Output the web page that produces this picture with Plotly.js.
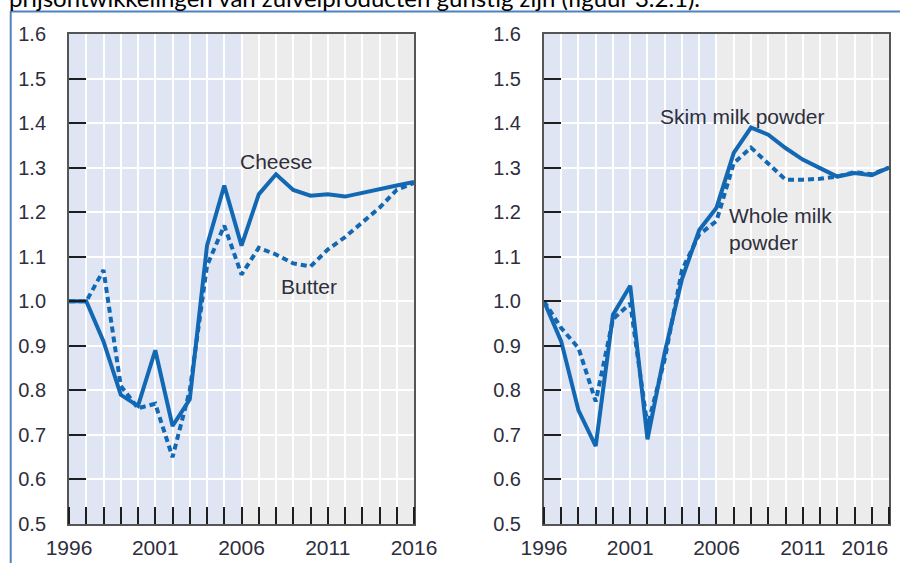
<!DOCTYPE html>
<html>
<head>
<meta charset="utf-8">
<script src="https://cdn.plot.ly/plotly-3.0.1.min.js"></script>
<style>
  html, body { margin: 0; padding: 0; background: #ffffff; }
  #chart { width: 900px; height: 563px; }
</style>
</head>
<body>
<div id="chart"></div>
<script>
// ---- data ----
const years = [1996, 1997, 1998, 1999, 2000, 2001, 2002, 2003, 2004, 2005, 2006,
               2007, 2008, 2009, 2010, 2011, 2012, 2013, 2014, 2015, 2016];

const cheese = [1.00, 1.00, 0.91, 0.79, 0.765, 0.89, 0.72, 0.78, 1.125, 1.26, 1.125,
                1.24, 1.285, 1.25, 1.237, 1.24, 1.235, 1.244, 1.252, 1.26, 1.268];
const butter = [1.00, 1.00, 1.07, 0.81, 0.76, 0.77, 0.65, 0.80, 1.08, 1.17, 1.06,
                1.12, 1.105, 1.085, 1.078, 1.116, 1.144, 1.176, 1.21, 1.25, 1.266];

const skimMilkPowder = [1.00, 0.91, 0.755, 0.675, 0.97, 1.035, 0.69, 0.885, 1.05, 1.16, 1.21,
                        1.333, 1.39, 1.374, 1.344, 1.318, 1.299, 1.28, 1.288, 1.283, 1.30];
const wholeMilkPowder = [1.00, 0.94, 0.895, 0.775, 0.96, 0.995, 0.72, 0.87, 1.07, 1.15, 1.18,
                         1.31, 1.345, 1.31, 1.273, 1.273, 1.275, 1.28, 1.29, 1.285, 1.30];

const historicalStart = 1996;
const projectionStart = 2006;

const xTickLabels = ["1996", "2001", "2006", "2011", "2016"];
const xTickValsLeft = [1996, 2001, 2006, 2011, 2016];
const xTickValsRight = [1996, 2001, 2006, 2011, 2014.6];

const seriesLabels = {
  cheese: "Cheese",
  butter: "Butter",
  skim: "Skim milk powder",
  whole: "Whole milk<br>powder"
};
const headerText = "prijsontwikkelingen van zuivelproducten gunstig zijn (figuur 3.2.1).";

// ---- styling ----
const BLUE = "#1268b3";
const TXT = "#2e2e3c";
const FONT = "Liberation Sans, Arial, sans-serif";

function lineTrace(y, xa, ya, dotted) {
  return {
    type: "scatter", mode: "lines", x: years, y: y,
    xaxis: xa, yaxis: ya, hoverinfo: "skip",
    line: { color: BLUE, width: 4, dash: dotted ? "6px,4px" : "solid" }
  };
}

const traces = [
  lineTrace(butter, "x", "y", true),
  lineTrace(cheese, "x", "y", false),
  lineTrace(wholeMilkPowder, "x2", "y2", true),
  lineTrace(skimMilkPowder, "x2", "y2", false)
];

function xAxis(domain, tickvals, anchor) {
  return {
    domain: domain, anchor: anchor, range: [1996, 2016],
    tickmode: "array", tickvals: tickvals, ticktext: xTickLabels,
    ticks: "", showgrid: false, zeroline: false,
    showline: true, mirror: true, linecolor: "#555555", linewidth: 2,
    tickfont: { family: FONT, size: 21, color: TXT },
    ticklabelstandoff: 4,
    minor: {
      tickmode: "linear", tick0: 1996, dtick: 1,
      ticks: "inside", ticklen: 17, tickwidth: 2, tickcolor: "#1e1e1e",
      showgrid: true, gridcolor: "#ffffff", gridwidth: 2
    },
    fixedrange: true
  };
}
function yAxis(anchor) {
  return {
    domain: [0.0693, 0.9396], anchor: anchor, range: [0.5, 1.6],
    tickmode: "linear", tick0: 0.5, dtick: 0.1, tickformat: ".1f",
    ticks: "inside", ticklen: 17, tickwidth: 2, tickcolor: "#1e1e1e",
    showgrid: true, gridcolor: "#ffffff", gridwidth: 2, zeroline: false,
    showline: true, mirror: true, linecolor: "#555555", linewidth: 2,
    tickfont: { family: FONT, size: 20, color: TXT },
    ticklabelstandoff: 17,
    fixedrange: true
  };
}

const layout = {
  width: 900, height: 563,
  margin: { l: 0, r: 0, t: 0, b: 0, pad: 0 },
  paper_bgcolor: "#ffffff",
  plot_bgcolor: "#ececec",
  showlegend: false,
  xaxis: xAxis([0.0767, 0.46], xTickValsLeft, "y"),
  yaxis: yAxis("x"),
  xaxis2: xAxis([0.6044, 0.9878], xTickValsRight, "y2"),
  yaxis2: yAxis("x2"),
  shapes: [
    { type: "rect", xref: "x", yref: "y domain", x0: historicalStart, x1: projectionStart, y0: 0, y1: 1,
      fillcolor: "#dfe5f3", line: { width: 0 }, layer: "below" },
    { type: "rect", xref: "x2", yref: "y2 domain", x0: historicalStart, x1: projectionStart, y0: 0, y1: 1,
      fillcolor: "#dfe5f3", line: { width: 0 }, layer: "below" },
    { type: "line", xref: "paper", yref: "paper", x0: 0.0111, x1: 1, y0: 0.9796, y1: 0.9796,
      line: { color: "#4f81bd", width: 2 } },
    { type: "line", xref: "paper", yref: "paper", x0: 0.0119, x1: 0.0119, y0: 0, y1: 0.9796,
      line: { color: "#4f81bd", width: 2 } }
  ],
  annotations: [
    { xref: "x", yref: "y", x: 2008, y: 1.313, text: seriesLabels.cheese, showarrow: false,
      font: { family: FONT, size: 21, color: TXT } },
    { xref: "x", yref: "y", x: 2009.9, y: 1.033, text: seriesLabels.butter, showarrow: false,
      font: { family: FONT, size: 21, color: TXT } },
    { xref: "x2", yref: "y2", x: 2007.5, y: 1.414, text: seriesLabels.skim, showarrow: false,
      font: { family: FONT, size: 21, color: TXT } },
    { xref: "x2", yref: "y2", x: 2006.6, y: 1.162, text: seriesLabels.whole, showarrow: false,
      xanchor: "left", align: "left", font: { family: FONT, size: 21, color: TXT } },
    { xref: "paper", yref: "paper", x: 0.008, y: 0.9745, xanchor: "left", yanchor: "bottom",
      text: headerText, showarrow: false,
      font: { family: "Lato, Open Sans, sans-serif", size: 24, color: "#000000" } }
  ]
};

Plotly.newPlot("chart", traces, layout, { staticPlot: true, displayModeBar: false });
</script>
</body>
</html>
